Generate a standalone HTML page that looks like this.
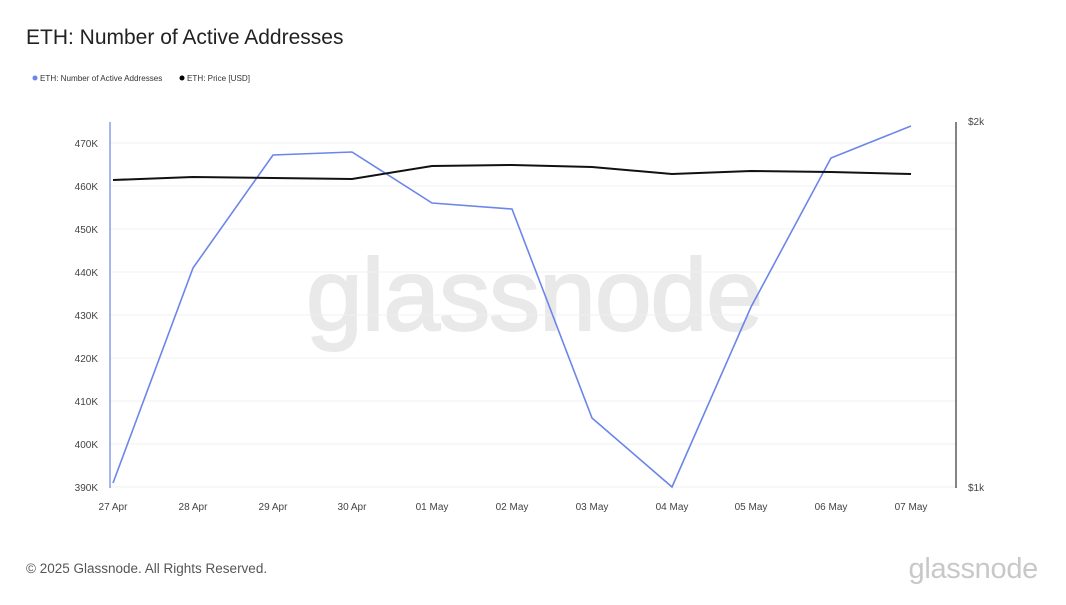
<!DOCTYPE html>
<html><head><style>
body{margin:0;background:#fff;font-family:"Liberation Sans",sans-serif;}
</style></head><body>
<svg width="1066" height="600" xmlns="http://www.w3.org/2000/svg" font-family="Liberation Sans, sans-serif">
<rect width="1066" height="600" fill="#fff"/>
<text x="26" y="44" font-size="21" fill="#222">ETH: Number of Active Addresses</text>
<circle cx="35" cy="78" r="2.5" fill="#6b86e8"/>
<text x="40" y="81" font-size="8.1" fill="#333">ETH: Number of Active Addresses</text>
<circle cx="182" cy="78" r="2.5" fill="#000"/>
<text x="187" y="81" font-size="8.1" fill="#333">ETH: Price [USD]</text>
<text x="534" y="330" font-size="102" fill="#e9e9e9" text-anchor="middle" stroke="#e9e9e9" stroke-width="2" letter-spacing="-1">glassnode</text>
<g stroke="#f0f0f0" stroke-width="1">
<line x1="110" x2="956" y1="143" y2="143"/><line x1="110" x2="956" y1="186" y2="186"/>
<line x1="110" x2="956" y1="229" y2="229"/><line x1="110" x2="956" y1="272" y2="272"/>
<line x1="110" x2="956" y1="315" y2="315"/><line x1="110" x2="956" y1="358" y2="358"/>
<line x1="110" x2="956" y1="401" y2="401"/><line x1="110" x2="956" y1="444" y2="444"/>
<line x1="110" x2="956" y1="487" y2="487"/>
</g>
<line x1="110" y1="122" x2="110" y2="488" stroke="#6b86e8" stroke-width="1.2"/>
<line x1="956" y1="122" x2="956" y2="488" stroke="#333" stroke-width="1.2"/>
<g font-size="10" fill="#444" text-anchor="end">
<text x="98" y="147">470K</text><text x="98" y="190">460K</text><text x="98" y="233">450K</text>
<text x="98" y="276">440K</text><text x="98" y="319">430K</text><text x="98" y="362">420K</text>
<text x="98" y="405">410K</text><text x="98" y="448">400K</text><text x="98" y="491">390K</text>
</g>
<g font-size="10" fill="#444">
<text x="968" y="125">$2k</text><text x="968" y="491">$1k</text>
</g>
<g font-size="10" fill="#444" text-anchor="middle">
<text x="113" y="510">27 Apr</text><text x="193" y="510">28 Apr</text><text x="273" y="510">29 Apr</text>
<text x="352" y="510">30 Apr</text><text x="432" y="510">01 May</text><text x="512" y="510">02 May</text>
<text x="592" y="510">03 May</text><text x="672" y="510">04 May</text><text x="751" y="510">05 May</text>
<text x="831" y="510">06 May</text><text x="911" y="510">07 May</text>
</g>
<polyline fill="none" stroke="#6b86e8" stroke-width="1.6" points="113,483 193,268 273,155 352,152 432,203 512,209 592,418 672,487 751,307 831,158 911,126"/>
<polyline fill="none" stroke="#111" stroke-width="2" points="113,180 193,177 273,178 352,179 432,166 512,165 592,167 672,174 751,171 831,172 911,174"/>
<text x="26" y="573" font-size="13.5" fill="#555">© 2025 Glassnode. All Rights Reserved.</text>
<text x="1038" y="578" font-size="29" fill="#c8c8c8" text-anchor="end" letter-spacing="-0.3">glassnode</text>
</svg>
</body></html>
